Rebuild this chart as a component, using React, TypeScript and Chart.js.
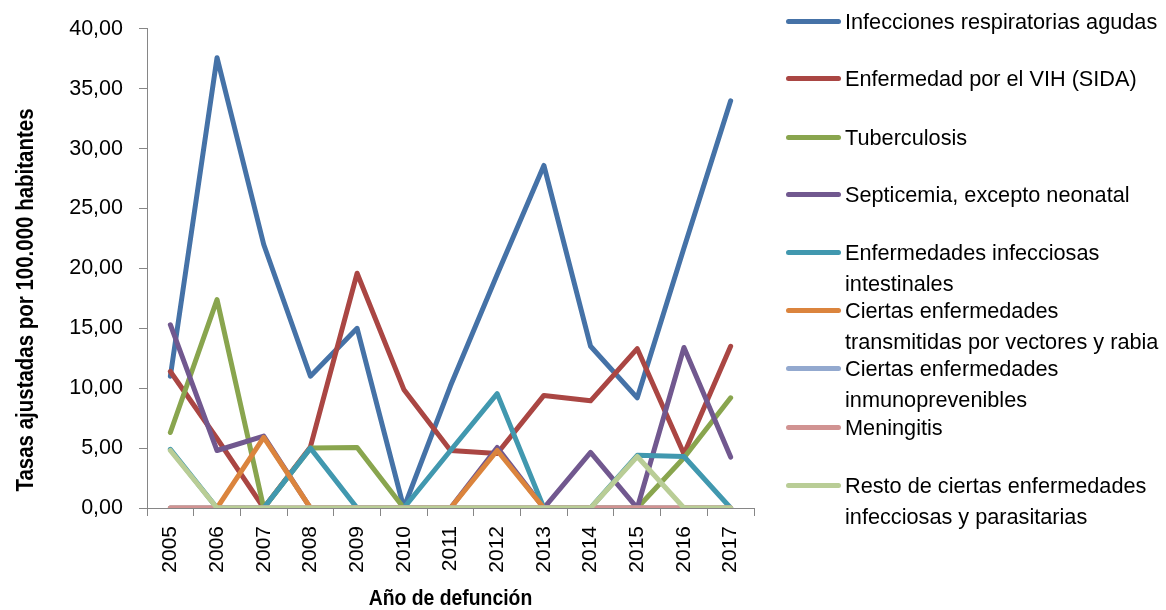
import React, { useEffect, useRef } from "react";
import { Chart, registerables } from "chart.js";

Chart.register(...registerables);

const years = ["2005", "2006", "2007", "2008", "2009", "2010", "2011", "2012", "2013", "2014", "2015", "2016", "2017"];

const respiratorias = [11.0, 37.6, 22.0, 11.0, 15.0, 0, 10.2, 19.5, 28.6, 13.5, 9.2, 21.7, 34.0];
const vih = [11.4, 5.8, 0, 5.1, 19.6, 9.9, 4.8, 4.55, 9.4, 8.95, 13.3, 4.5, 13.5];
const tuberculosis = [6.3, 17.4, 0, 5.0, 5.05, 0, 0, 0, 0, 0, 0, 4.2, 9.2];
const septicemia = [15.3, 4.8, 6.0, 0, 0, 0, 0, 5.05, 0, 4.65, 0, 13.4, 4.25];
const intestinales = [4.9, 0, 0, 5.0, 0, 0, 4.8, 9.55, 0, 0, 4.4, 4.3, 0];
const vectores = [0, 0, 5.9, 0, 0, 0, 0, 4.8, 0, 0, 0, 0, 0];
const inmunoprevenibles = [0, 0, 0, 0, 0, 0, 0, 0, 0, 0, 0, 0, 0];
const meningitis = [0, 0, 0, 0, 0, 0, 0, 0, 0, 0, 0, 0, 0];
const resto = [4.8, 0, 0, 0, 0, 0, 0, 0, 0, 0, 4.3, 0, 0];

const seriesNames = [
  ["Infecciones respiratorias agudas"],
  ["Enfermedad por el VIH (SIDA)"],
  ["Tuberculosis"],
  ["Septicemia, excepto neonatal"],
  ["Enfermedades infecciosas", "intestinales"],
  ["Ciertas enfermedades", "transmitidas por vectores y rabia"],
  ["Ciertas enfermedades", "inmunoprevenibles"],
  ["Meningitis"],
  ["Resto de ciertas enfermedades", "infecciosas y parasitarias"],
];
const seriesValues = [respiratorias, vih, tuberculosis, septicemia, intestinales, vectores, inmunoprevenibles, meningitis, resto];
const seriesColors = ["#4572A7", "#AA4643", "#89A54E", "#71588F", "#4198AF", "#DB843D", "#93A9CF", "#D19392", "#B9CD96"];
const legendRowCenters = [21, 78, 137, 194, 252, 310, 368, 427, 485];

const yTitle = "Tasas ajustadas por 100.000 habitantes";
const xTitle = "Año de defunción";

const FONT = "'Liberation Sans', Arial, sans-serif";

const titlesPlugin = {
  id: "titlesPlugin",
  afterDraw(chart: any) {
    const ctx = chart.ctx;
    ctx.save();
    ctx.fillStyle = "#000";
    ctx.textAlign = "center";
    ctx.textBaseline = "alphabetic";
    ctx.save();
    ctx.font = `bold 22px ${FONT}`;
    ctx.translate(450.5, 605);
    ctx.scale(0.88, 1);
    ctx.fillText(xTitle, 0, 0);
    ctx.restore();
    ctx.save();
    ctx.font = `bold 23px ${FONT}`;
    ctx.translate(33, 300);
    ctx.rotate(-Math.PI / 2);
    ctx.scale(0.89, 1);
    ctx.fillText(yTitle, 0, 0);
    ctx.restore();
    ctx.restore();
  },
};

export default function App() {
  const canvasRef = useRef<HTMLCanvasElement | null>(null);

  useEffect(() => {
    document.body.style.margin = "0";
    const canvas = canvasRef.current;
    if (!canvas) return;
    const datasets = seriesValues.map((vals, i) => ({
      label: seriesNames[i].join(" "),
      data: vals,
      borderColor: seriesColors[i],
      backgroundColor: seriesColors[i],
      borderWidth: 5,
      pointRadius: 0,
      pointHoverRadius: 0,
      tension: 0,
      fill: false,
      borderCapStyle: "round" as const,
      borderJoinStyle: "round" as const,
      order: seriesValues.length - 1 - i,
    }));
    const chart = new Chart(canvas, {
      type: "line",
      data: { labels: years, datasets },
      plugins: [titlesPlugin],
      options: {
        animation: false,
        responsive: false,
        devicePixelRatio: 1,
        layout: { padding: { top: 26, right: 412, left: 0, bottom: 0 } },
        plugins: { legend: { display: false }, tooltip: { enabled: false } },
        scales: {
          x: {
            type: "category",
            offset: true,
            grid: {
              offset: true,
              drawOnChartArea: false,
              drawTicks: true,
              tickLength: 8,
              color: "#868686",
              lineWidth: 1,
            },
            border: { display: true, color: "#868686", width: 1 },
            ticks: {
              autoSkip: false,
              minRotation: 90,
              maxRotation: 90,
              padding: 10,
              color: "#000",
              font: { family: FONT, size: 21 },
            },
            afterFit: (s: any) => {
              s.height = 102;
            },
          },
          y: {
            min: 0,
            max: 40,
            grid: {
              drawOnChartArea: false,
              drawTicks: true,
              tickLength: 8,
              color: "#868686",
              lineWidth: 1,
            },
            border: { display: true, color: "#868686", width: 1 },
            ticks: {
              stepSize: 5,
              padding: 16,
              color: "#000",
              font: { family: FONT, size: 21.5 },
              callback: (v: any) => Number(v).toFixed(2).replace(".", ","),
            },
            afterFit: (s: any) => {
              s.width = 147;
            },
          },
        },
      },
    } as any);
    return () => chart.destroy();
  }, []);

  return (
    <div style={{ position: "relative", width: 1166, height: 610, background: "#fff", overflow: "hidden" }}>
      <canvas ref={canvasRef} width={1166} height={610} style={{ position: "absolute", left: 0, top: 0, width: 1166, height: 610 }} />
      {seriesNames.map((lines, i) => (
        <React.Fragment key={i}>
          <div
            style={{
              position: "absolute",
              left: 786,
              top: legendRowCenters[i] - 2,
              width: 55,
              height: 4.5,
              borderRadius: 2.5,
              background: seriesColors[i],
            }}
          />
          <div
            style={{
              position: "absolute",
              left: 845,
              top: legendRowCenters[i] - 15.5,
              fontFamily: FONT,
              fontSize: 21.7,
              lineHeight: "31px",
              color: "#000",
              whiteSpace: "nowrap",
            }}
          >
            {lines.map((t, j) => (
              <div key={j}>{t}</div>
            ))}
          </div>
        </React.Fragment>
      ))}
    </div>
  );
}
